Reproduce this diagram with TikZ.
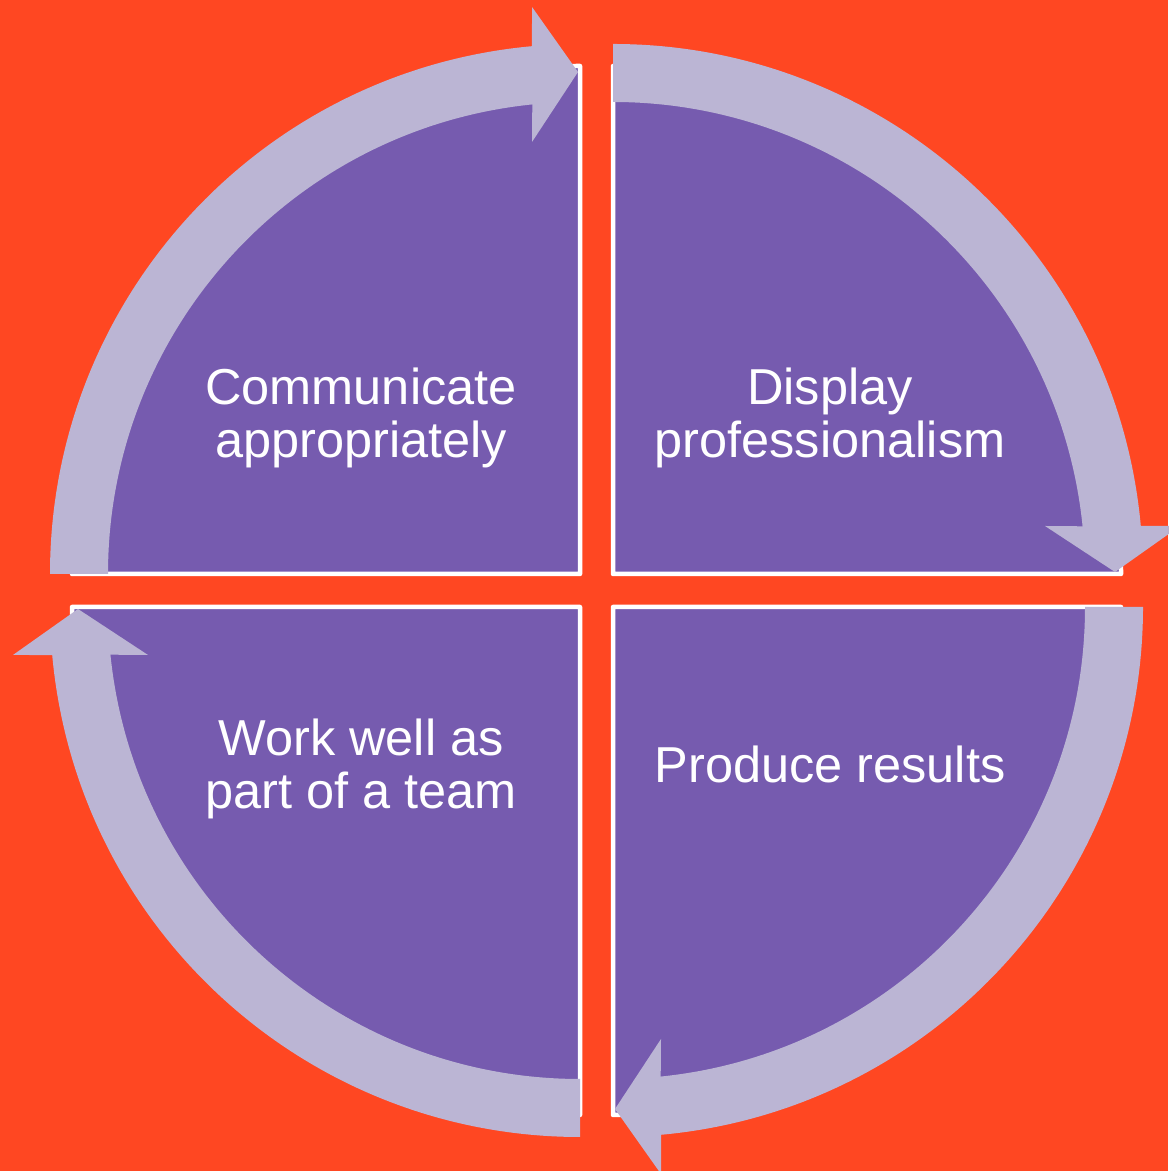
\documentclass[tikz,border=0pt]{standalone}
\usepackage{fontspec}
\setmainfont{Liberation Sans}
\usepackage{xcolor}
\usepackage{tikz}
\usetikzlibrary{positioning}
\definecolor{bgorange}{HTML}{FF4722}
\definecolor{quadpurple}{HTML}{765BAF}
\definecolor{ringlilac}{HTML}{BBB5D4}
\tikzset{
	quadrant/.style={fill=quadpurple, draw=white, line width=2.25pt, line join=round},
	ringarrow/.style={fill=ringlilac},
	quadlabel/.style={text=white, align=center, inner sep=0pt,
		font=\fontsize{25.25}{26.2}\selectfont}
}

\begin{document}
\begin{tikzpicture}[x=0.5pt, y=0.5pt]
	
	%% -- Background
	\fill[bgorange] (0,0) rectangle (1168,1171);
	\useasboundingbox (0,0) rectangle (1168,1171);
	
	%% -- Quarter discs
	\filldraw[quadrant] (580,597) -- ++(-508,0) arc[start angle=180, end angle=90, radius=508] -- cycle;
	\filldraw[quadrant] (613,597) -- ++(0,508) arc[start angle=90, end angle=0, radius=508] -- cycle;
	\filldraw[quadrant] (613,564) -- ++(508,0) arc[start angle=0, end angle=-90, radius=508] -- cycle;
	\filldraw[quadrant] (580,564) -- ++(0,-508) arc[start angle=-90, end angle=-180, radius=508] -- cycle;
	
	%% -- Curved arrows, one per quarter, turning clockwise
	\foreach \cx/\cy/\rot in {580/597/0, 613/597/-90, 613/564/-180, 580/564/90}{
		\begin{scope}[shift={(\cx,\cy)}, rotate=\rot]
			\fill[ringarrow] (180:530) arc[start angle=180, end angle=95.2, radius=530]
			-- (-48,567) -- (-2,502) -- (-48,432)
			-- (95.8:472) arc[start angle=95.8, end angle=180, radius=472] -- cycle;
		\end{scope}
	}
	
	%% -- Labels
	\node[quadlabel] (comm) at (361,753) {Communicate\\appropriately};
	\node[quadlabel] (prof) at (830,753) {Display\\professionalism};
	\node[quadlabel] (res) at (830,407) {Produce results};
	\node[quadlabel] (team) at (361,402) {Work well as\\part of a team};
	
\end{tikzpicture}
\end{document}
